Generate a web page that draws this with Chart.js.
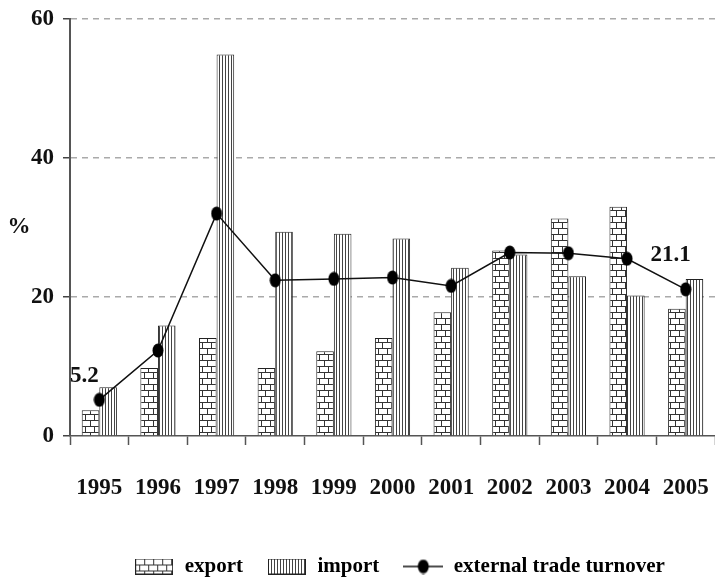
<!DOCTYPE html>
<html>
<head>
<meta charset="utf-8">
<script src="https://cdn.jsdelivr.net/npm/chart.js@4.4.1/dist/chart.umd.min.js"></script>
<style>
  html, body { margin: 0; padding: 0; background: #fff; }
  #wrap { width: 715px; height: 579px; }
</style>
</head>
<body>
<div id="wrap"><canvas id="tradeChart" width="715" height="579"></canvas></div>
<script>
const years = ['1995', '1996', '1997', '1998', '1999', '2000', '2001', '2002', '2003', '2004', '2005'];
const exportValues = [3.7, 9.8, 14.1, 9.8, 12.2, 14.1, 17.8, 26.7, 31.3, 33.0, 18.3];
const importValues = [7.0, 15.9, 54.9, 29.4, 29.1, 28.4, 24.2, 26.1, 23.0, 20.2, 22.6];
const turnoverValues = [5.2, 12.3, 32.0, 22.4, 22.6, 22.8, 21.6, 26.4, 26.3, 25.5, 21.1];
const turnoverLabels = ['5.2', '', '', '', '', '', '', '', '', '', '21.1'];
const yTicks = [0, 20, 40, 60];
const seriesNames = ['export', 'import', 'external trade turnover'];

const FONT = 'Liberation Serif';
const INK = '#111';

function makeCanvas(w, h) {
  const c = document.createElement('canvas');
  c.width = w;
  c.height = h;
  return c;
}

// brick fill used for export bars
function brickTile() {
  const c = makeCanvas(18, 12);
  const g = c.getContext('2d');
  g.fillStyle = '#fff';
  g.fillRect(0, 0, 18, 12);
  g.fillStyle = '#333';
  g.fillRect(0, 0, 18, 1);
  g.fillRect(0, 6, 18, 1);
  g.fillRect(0, 0, 1, 6);
  g.fillRect(9, 0, 1, 6);
  g.fillRect(4, 6, 1, 6);
  g.fillRect(13, 6, 1, 6);
  return c;
}

// vertical stripes used for import bars
function stripeTile() {
  const c = makeCanvas(3, 10);
  const g = c.getContext('2d');
  g.fillStyle = '#fff';
  g.fillRect(0, 0, 3, 10);
  g.fillStyle = '#444';
  g.fillRect(0, 0, 1, 10);
  return c;
}

const ctx = document.getElementById('tradeChart').getContext('2d');
const brickPattern = ctx.createPattern(brickTile(), 'repeat');
const stripePattern = ctx.createPattern(stripeTile(), 'repeat');

function dotImage() {
  const c = makeCanvas(12, 15);
  const g = c.getContext('2d');
  g.fillStyle = '#000';
  g.beginPath();
  g.ellipse(6, 7.5, 5.5, 7, 0, 0, Math.PI * 2);
  g.fill();
  return c;
}

function legendBox(pattern) {
  const c = makeCanvas(38, 16);
  const g = c.getContext('2d');
  g.fillStyle = pattern === 'brick' ? g.createPattern(brickTile(), 'repeat') : g.createPattern(stripeTile(), 'repeat');
  g.fillRect(0, 0, 38, 16);
  g.strokeStyle = '#222';
  g.lineWidth = 1;
  g.strokeRect(0.5, 0.5, 37, 15);
  return c;
}

function legendLine() {
  const c = makeCanvas(40, 16);
  const g = c.getContext('2d');
  g.strokeStyle = '#111';
  g.lineWidth = 1.5;
  g.beginPath();
  g.moveTo(0, 8);
  g.lineTo(40, 8);
  g.stroke();
  g.drawImage(dotImage(), 14, 0.5);
  return c;
}

const legendIcons = [legendBox('brick'), legendBox('stripe'), legendLine()];

const extrasPlugin = {
  id: 'extras',
  afterLayout(chart) {
    // the legend in the original sits a little right of centre and lower
    const lg = chart.legend;
    lg.left += 42;
    lg.right += 42;
    lg.top += 8;
    lg.bottom += 8;
  },
  afterDatasetsDraw(chart) {
    const c = chart.ctx;
    const meta = chart.getDatasetMeta(2);
    c.save();
    c.fillStyle = INK;
    c.font = 'bold 23px "' + FONT + '"';
    c.textAlign = 'center';
    c.textBaseline = 'middle';
    turnoverLabels.forEach((t, i) => {
      if (!t) return;
      const p = meta.data[i];
      const dy = i === 0 ? -24 : -34;
      c.fillText(t, p.x - 15, p.y + dy);
    });
    // unit label beside the y axis
    const area = chart.chartArea;
    c.fillText('%', 19, area.top + (area.bottom - area.top) * 0.5);
    c.restore();
  }
};

Chart.defaults.font.family = FONT;
Chart.defaults.font.weight = 'bold';
Chart.defaults.color = INK;

const chart = new Chart(ctx, {
  type: 'bar',
  data: {
    labels: years,
    datasets: [
      {
        label: seriesNames[0],
        data: exportValues,
        backgroundColor: brickPattern,
        borderColor: '#222',
        borderWidth: 1,
        categoryPercentage: 0.6,
        barPercentage: 1.0,
        order: 1
      },
      {
        label: seriesNames[1],
        data: importValues,
        backgroundColor: stripePattern,
        borderColor: '#222',
        borderWidth: 1,
        categoryPercentage: 0.6,
        barPercentage: 1.0,
        order: 1
      },
      {
        type: 'line',
        label: seriesNames[2],
        data: turnoverValues,
        borderColor: '#111',
        borderWidth: 1.5,
        pointStyle: dotImage(),
        pointRadius: 6,
        tension: 0,
        fill: false,
        order: 0
      }
    ]
  },
  options: {
    responsive: false,
    animation: false,
    layout: { autoPadding: false, padding: { top: 19, left: 0, right: 0, bottom: 0 } },
    plugins: {
      tooltip: { enabled: false },
      legend: {
        position: 'bottom',
        labels: {
          usePointStyle: true,
          pointStyleWidth: 40,
          boxHeight: 16,
          padding: 24,
          color: INK,
          font: { size: 21, weight: 'bold', family: FONT },
          generateLabels() {
            return seriesNames.map((name, i) => ({
              text: name,
              pointStyle: legendIcons[i],
              fillStyle: '#fff',
              strokeStyle: '#222',
              lineWidth: 0,
              hidden: false,
              datasetIndex: i
            }));
          }
        }
      }
    },
    scales: {
      x: {
        afterFit(s) {
          s.height = 88;
          s.paddingLeft = 0;
          s.paddingRight = 0;
        },
        grid: {
          offset: true,
          drawOnChartArea: false,
          tickLength: 9,
          tickColor: '#555',
          tickWidth: 1.5
        },
        border: { color: '#555', width: 1.5 },
        ticks: {
          padding: 29,
          color: INK,
          font: { size: 23, weight: 'bold', family: FONT }
        }
      },
      y: {
        min: 0,
        max: 60,
        afterFit(s) {
          s.width = 70;
          s.paddingTop = 0;
          s.paddingBottom = 0;
        },
        afterBuildTicks(s) { s.ticks = yTicks.map(v => ({ value: v })); },
        grid: {
          color: ctx2 => ctx2.tick && ctx2.tick.value === 0 ? 'rgba(0,0,0,0)' : '#aaa',
          lineWidth: 1.5,
          tickLength: 7,
          tickColor: '#444',
          tickWidth: 1.5
        },
        border: { color: '#555', width: 2, dash: [6, 5] },
        ticks: {
          padding: 9,
          color: INK,
          font: { size: 23, weight: 'bold', family: FONT }
        }
      }
    }
  },
  plugins: [extrasPlugin]
});
</script>
</body>
</html>
